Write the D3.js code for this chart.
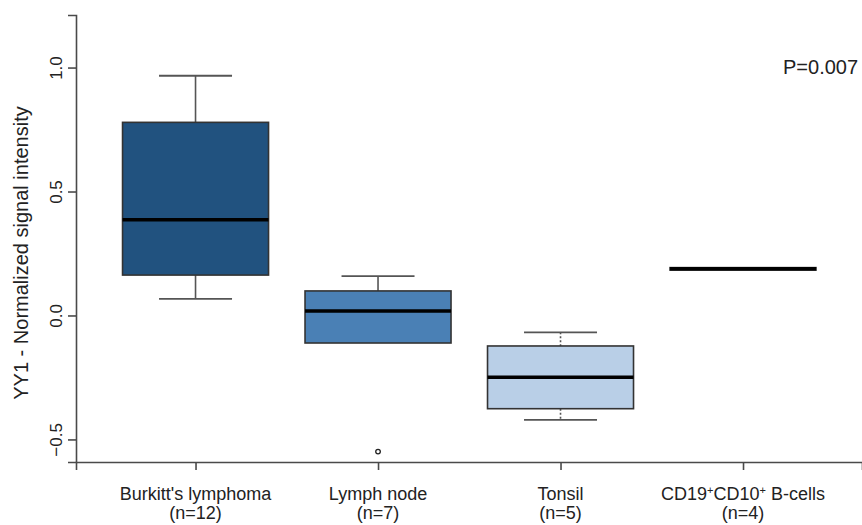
<!DOCTYPE html>
<html>
<head>
<meta charset="utf-8">
<script src="https://cdn.jsdelivr.net/npm/d3@7"></script>
<style>
  body { margin: 0; background: #fff; }
  svg { display: block; font-family: "Liberation Sans", Arial, sans-serif; }
  .axis path, .axis line { stroke: #4a4a4a; stroke-width: 1.6; }
  .axis text { fill: #222; }
</style>
</head>
<body>
<script>
// Data {{{1
const categories = ["Burkitt's lymphoma", "Lymph node", "Tonsil", "CD19+CD10+ B-cells"];
const sampleSizes = [12, 7, 5, 4];
const whiskerHigh = [0.969, 0.161, -0.066, 0.195];
const upperQuartile = [0.781, 0.101, -0.121, 0.195];
const medians = [0.388, 0.020, -0.247, 0.19];
const lowerQuartile = [0.165, -0.109, -0.374, 0.185];
const whiskerLow = [0.069, -0.109, -0.419, 0.185];
const outliers = [[], [-0.547], [], []];
const boxColors = ["#21527f", "#4a80b5", "#b9cfe7", "#9fb8d8"];
const whiskerDashed = [false, false, true, false];
const yTicks = [-0.5, 0.0, 0.5, 1.0];
const pValueLabel = "P=0.007";

// Main {{{1
const width = 862, height = 525;
const svg = d3.select("body").append("svg")
    .attr("width", width)
    .attr("height", height);

const x = d3.scaleLinear().domain([0.345, 4.652]).range([76, 862]);
const y = d3.scaleLinear().domain([-0.589, 1.214]).range([462, 15]);
const boxHalf = 0.4;
const capHalf = 0.2;

const boxes = categories.map((c, i) => ({
    name: c, n: sampleSizes[i], pos: i + 1,
    hi: whiskerHigh[i], q3: upperQuartile[i], med: medians[i],
    q1: lowerQuartile[i], lo: whiskerLow[i], out: outliers[i],
    color: boxColors[i], dashed: whiskerDashed[i]
}));

// whiskers
const g = svg.selectAll(".box").data(boxes).join("g").classed("box", true);

g.append("line")
    .attr("x1", d => x(d.pos)).attr("x2", d => x(d.pos))
    .attr("y1", d => y(d.hi)).attr("y2", d => y(d.q3))
    .attr("stroke", "#555").attr("stroke-width", 1.6)
    .attr("stroke-dasharray", d => d.dashed ? "2,2" : null);
g.append("line")
    .attr("x1", d => x(d.pos)).attr("x2", d => x(d.pos))
    .attr("y1", d => y(d.q1)).attr("y2", d => y(d.lo))
    .attr("stroke", "#555").attr("stroke-width", 1.6)
    .attr("stroke-dasharray", d => d.dashed ? "2,2" : null);
g.filter(d => d.hi > d.q3).append("line")
    .attr("x1", d => x(d.pos - capHalf)).attr("x2", d => x(d.pos + capHalf))
    .attr("y1", d => y(d.hi)).attr("y2", d => y(d.hi))
    .attr("stroke", "#555").attr("stroke-width", 1.8);
g.filter(d => d.lo < d.q1).append("line")
    .attr("x1", d => x(d.pos - capHalf)).attr("x2", d => x(d.pos + capHalf))
    .attr("y1", d => y(d.lo)).attr("y2", d => y(d.lo))
    .attr("stroke", "#555").attr("stroke-width", 1.8);

// boxes
g.append("rect")
    .attr("x", d => x(d.pos - boxHalf))
    .attr("width", d => x(d.pos + boxHalf) - x(d.pos - boxHalf))
    .attr("y", d => y(d.q3))
    .attr("height", d => y(d.q1) - y(d.q3))
    .attr("fill", d => d.color)
    .attr("stroke", "#333").attr("stroke-width", 1.6);
g.append("line")
    .attr("x1", d => x(d.pos - boxHalf)).attr("x2", d => x(d.pos + boxHalf))
    .attr("y1", d => y(d.med)).attr("y2", d => y(d.med))
    .attr("stroke", "#000").attr("stroke-width", 3.5);

// outliers
g.selectAll(".outlier").data(d => d.out.map(v => ({ pos: d.pos, v })))
    .join("circle").classed("outlier", true)
    .attr("cx", d => x(d.pos)).attr("cy", d => y(d.v))
    .attr("r", 2.3).attr("fill", "none")
    .attr("stroke", "#222").attr("stroke-width", 1.3);

// Axes {{{1
const yAxis = svg.append("g").classed("axis", true)
    .attr("transform", "translate(76,0)")
    .call(d3.axisLeft(y).tickValues(yTicks).tickFormat(d3.format(".1f")).tickSizeOuter(0).tickSize(8));
yAxis.selectAll("text")
    .attr("font-size", 17)
    .attr("transform", "rotate(-90)")
    .attr("text-anchor", "middle")
    .attr("x", function (d) { return -y(d); })
    .attr("y", -14)
    .attr("dy", 0)
    .attr("dominant-baseline", "auto");
yAxis.selectAll(".tick").attr("transform", function (d) { return "translate(0," + y(d) + ")"; });
yAxis.selectAll(".tick text").attr("x", 0).attr("transform", "rotate(-90)");

const xAxis = svg.append("g").classed("axis", true)
    .attr("transform", "translate(0,462)")
    .call(d3.axisBottom(x).tickValues(boxes.map(d => d.pos)).tickFormat("").tickSizeOuter(0).tickSize(8));

// category labels with superscript "+"
const labels = svg.append("g").selectAll("text").data(boxes).join("text")
    .attr("x", d => x(d.pos))
    .attr("y", 500)
    .attr("text-anchor", "middle")
    .attr("font-size", 18)
    .attr("fill", "#222");
labels.each(function (d) {
    const t = d3.select(this);
    d.name.split(/(\+)/).forEach(part => {
        if (part === "+") {
            t.append("tspan").attr("font-size", 11).attr("baseline-shift", "super").text("+");
        } else if (part) {
            t.append("tspan").text(part);
        }
    });
});
svg.append("g").selectAll("text").data(boxes).join("text")
    .attr("x", d => x(d.pos))
    .attr("y", 519)
    .attr("text-anchor", "middle")
    .attr("font-size", 18)
    .attr("fill", "#222")
    .text(d => "(n=" + d.n + ")");

// y title
svg.append("text")
    .attr("transform", "translate(28,253) rotate(-90)")
    .attr("text-anchor", "middle")
    .attr("font-size", 20)
    .attr("fill", "#222")
    .text("YY1 - Normalized signal intensity");

// p value
svg.append("text")
    .attr("x", 783).attr("y", 74)
    .attr("font-size", 20)
    .attr("fill", "#222")
    .text(pValueLabel);
</script>
</body>
</html>
